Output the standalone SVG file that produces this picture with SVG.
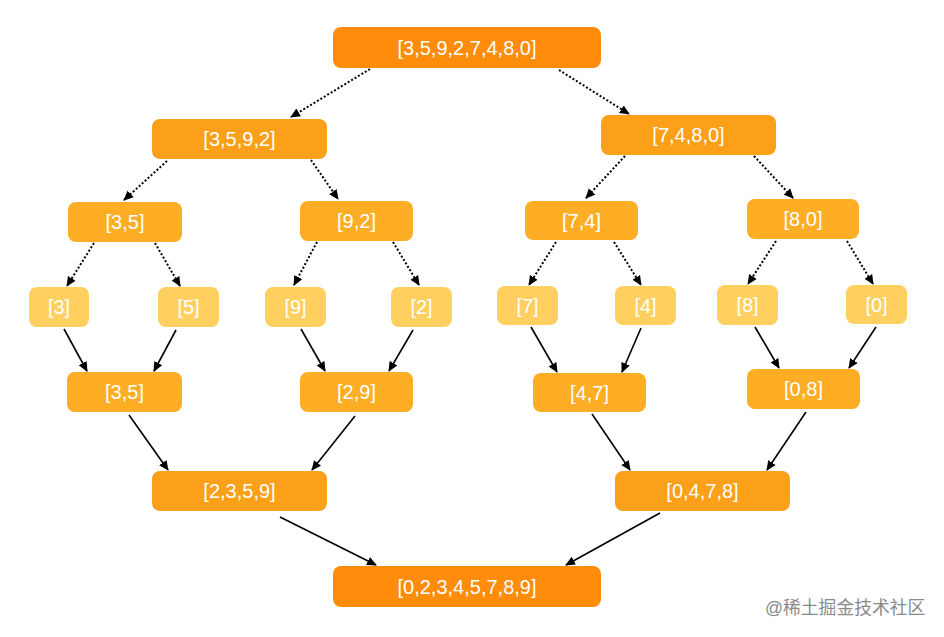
<svg xmlns="http://www.w3.org/2000/svg" width="944" height="637" viewBox="0 0 944 637">
<defs>
<marker id="ah" viewBox="0 0 10 10" refX="9" refY="5" markerWidth="10" markerHeight="10" markerUnits="userSpaceOnUse" orient="auto">
<path d="M0,0.5 L10,5 L0,9.5 Z" fill="#000"/>
</marker>
<style>
.n rect{rx:8;ry:8}
.l0 rect{fill:#FF8C0B}
.l1 rect{fill:#FCA01A}
.l2 rect{fill:#FDAE25}
.l3 rect{fill:#FFD060}
.n text{fill:#fff;font-family:"Liberation Sans",Arial,sans-serif;font-size:20px;text-anchor:middle;dominant-baseline:central}
.d{stroke:#000;stroke-width:2;stroke-dasharray:2 2;fill:none;marker-end:url(#ah)}
.s{stroke:#000;stroke-width:1.6;fill:none;marker-end:url(#ah)}
.wm{fill:#8a8a8a;font-family:"Liberation Sans","Noto Sans CJK SC",sans-serif;font-size:17.8px}
</style>
</defs>
<rect width="944" height="637" fill="#fff"/>
<g id="connectors">
<line class="d" x1="370" y1="69" x2="291" y2="117"/>
<line class="d" x1="559" y1="70" x2="629" y2="114"/>
<line class="d" x1="167" y1="161" x2="124" y2="200"/>
<line class="d" x1="311" y1="160" x2="338" y2="199"/>
<line class="d" x1="94" y1="243" x2="67" y2="286"/>
<line class="d" x1="155" y1="243" x2="180" y2="286"/>
<line class="d" x1="317" y1="242" x2="294" y2="285"/>
<line class="d" x1="393" y1="242" x2="419" y2="285"/>
<line class="d" x1="625" y1="156" x2="586" y2="198"/>
<line class="d" x1="754" y1="156" x2="793" y2="198"/>
<line class="d" x1="556" y1="242" x2="529" y2="285"/>
<line class="d" x1="614" y1="242" x2="641" y2="285"/>
<line class="d" x1="776" y1="241" x2="748" y2="284"/>
<line class="d" x1="847" y1="241" x2="873" y2="284"/>
<line class="s" x1="64" y1="329" x2="87" y2="371"/>
<line class="s" x1="176" y1="330" x2="154" y2="371"/>
<line class="s" x1="301" y1="329" x2="325" y2="371"/>
<line class="s" x1="413" y1="330" x2="389" y2="371"/>
<line class="s" x1="531" y1="327" x2="557" y2="372"/>
<line class="s" x1="641" y1="328" x2="622" y2="372"/>
<line class="s" x1="755" y1="327" x2="779" y2="368"/>
<line class="s" x1="876" y1="327" x2="849" y2="368"/>
<line class="s" x1="129" y1="415" x2="168" y2="470"/>
<line class="s" x1="355" y1="416" x2="312" y2="470"/>
<line class="s" x1="592" y1="414" x2="630" y2="470"/>
<line class="s" x1="806" y1="412" x2="767" y2="470"/>
<line class="s" x1="280" y1="517" x2="376" y2="565"/>
<line class="s" x1="660" y1="513" x2="566" y2="565"/>
</g>
<g id="n0" class="n l0"><rect x="333" y="27" width="268" height="41"/><text x="467" y="48">[3,5,9,2,7,4,8,0]</text></g>
<g id="n1" class="n l1"><rect x="152" y="119" width="175" height="40"/><text x="239.5" y="139">[3,5,9,2]</text></g>
<g id="n2" class="n l1"><rect x="601" y="115" width="175" height="40"/><text x="688.5" y="135">[7,4,8,0]</text></g>
<g id="n3" class="n l2"><rect x="68" y="202" width="114" height="40"/><text x="125" y="222">[3,5]</text></g>
<g id="n4" class="n l2"><rect x="300" y="201" width="113" height="40"/><text x="356.5" y="221">[9,2]</text></g>
<g id="n5" class="n l2"><rect x="525" y="201" width="113" height="39"/><text x="581.5" y="220.5">[7,4]</text></g>
<g id="n6" class="n l2"><rect x="747" y="199" width="112" height="40"/><text x="803" y="219">[8,0]</text></g>
<g id="n7" class="n l3"><rect x="29" y="287" width="60" height="40"/><text x="59" y="307">[3]</text></g>
<g id="n8" class="n l3"><rect x="158" y="287" width="61" height="40"/><text x="188.5" y="307">[5]</text></g>
<g id="n9" class="n l3"><rect x="265" y="287" width="61" height="40"/><text x="295.5" y="307">[9]</text></g>
<g id="n10" class="n l3"><rect x="391" y="287" width="61" height="40"/><text x="421.5" y="307">[2]</text></g>
<g id="n11" class="n l3"><rect x="497" y="286" width="61" height="39"/><text x="527.5" y="305.5">[7]</text></g>
<g id="n12" class="n l3"><rect x="615" y="286" width="61" height="39"/><text x="645.5" y="305.5">[4]</text></g>
<g id="n13" class="n l3"><rect x="717" y="285" width="61" height="40"/><text x="747.5" y="305">[8]</text></g>
<g id="n14" class="n l3"><rect x="846" y="285" width="61" height="39"/><text x="876.5" y="304.5">[0]</text></g>
<g id="n15" class="n l2"><rect x="67" y="372" width="115" height="40"/><text x="124.5" y="392">[3,5]</text></g>
<g id="n16" class="n l2"><rect x="300" y="372" width="113" height="40"/><text x="356.5" y="392">[2,9]</text></g>
<g id="n17" class="n l2"><rect x="533" y="373" width="113" height="39"/><text x="589.5" y="392.5">[4,7]</text></g>
<g id="n18" class="n l2"><rect x="747" y="369" width="113" height="40"/><text x="803.5" y="389">[0,8]</text></g>
<g id="n19" class="n l1"><rect x="152" y="471" width="175" height="40"/><text x="239.5" y="491">[2,3,5,9]</text></g>
<g id="n20" class="n l1"><rect x="615" y="471" width="175" height="40"/><text x="702.5" y="491">[0,4,7,8]</text></g>
<g id="n21" class="n l0"><rect x="333" y="566" width="268" height="41"/><text x="467" y="587">[0,2,3,4,5,7,8,9]</text></g>
<text class="wm" x="765" y="614">@稀土掘金技术社区</text>
</svg>
